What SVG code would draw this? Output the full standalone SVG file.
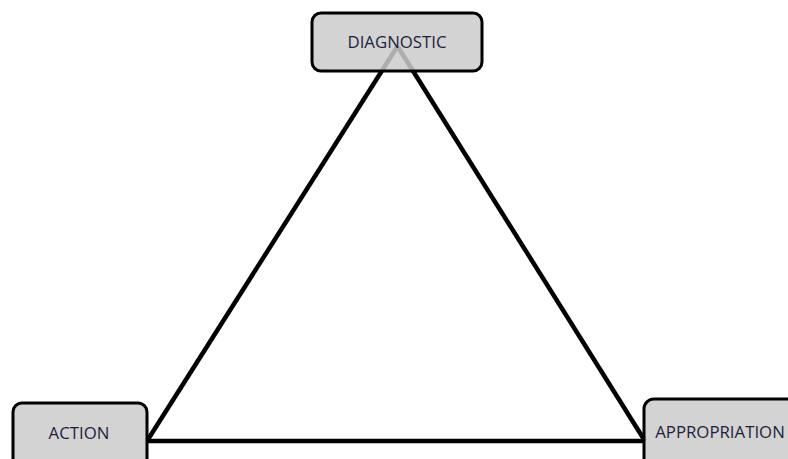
<svg xmlns="http://www.w3.org/2000/svg" width="788" height="459" viewBox="0 0 788 459">
<style>
.box{fill:#cbcbcb;fill-opacity:0.85;stroke:#000;stroke-width:3}
.lbl{font-family:"Open Sans","Liberation Sans",sans-serif;font-size:16.8px;fill:#1e1e3c;text-anchor:middle}
.edge{stroke:#000;stroke-width:4.5;fill:none;stroke-linecap:butt}
</style>
<rect width="788" height="459" fill="#fff"/>
<g id="connectors">
<line class="edge" x1="397" y1="47" x2="147" y2="441"/>
<line class="edge" x1="398" y1="47" x2="645" y2="441"/>
<line class="edge" x1="147" y1="441" x2="645" y2="441"/>
</g>
<g id="diagnostic">
<rect class="box" x="312" y="13" width="170" height="58" rx="9"/>
<text class="lbl" x="397" y="48">DIAGNOSTIC</text>
</g>
<g id="action">
<rect class="box" x="13" y="403" width="134" height="70" rx="9"/>
<text class="lbl" x="79" y="439">ACTION</text>
</g>
<g id="appropriation">
<rect class="box" x="644" y="399" width="160" height="74" rx="10"/>
<text class="lbl" x="720" y="438">APPROPRIATION</text>
</g>
</svg>
